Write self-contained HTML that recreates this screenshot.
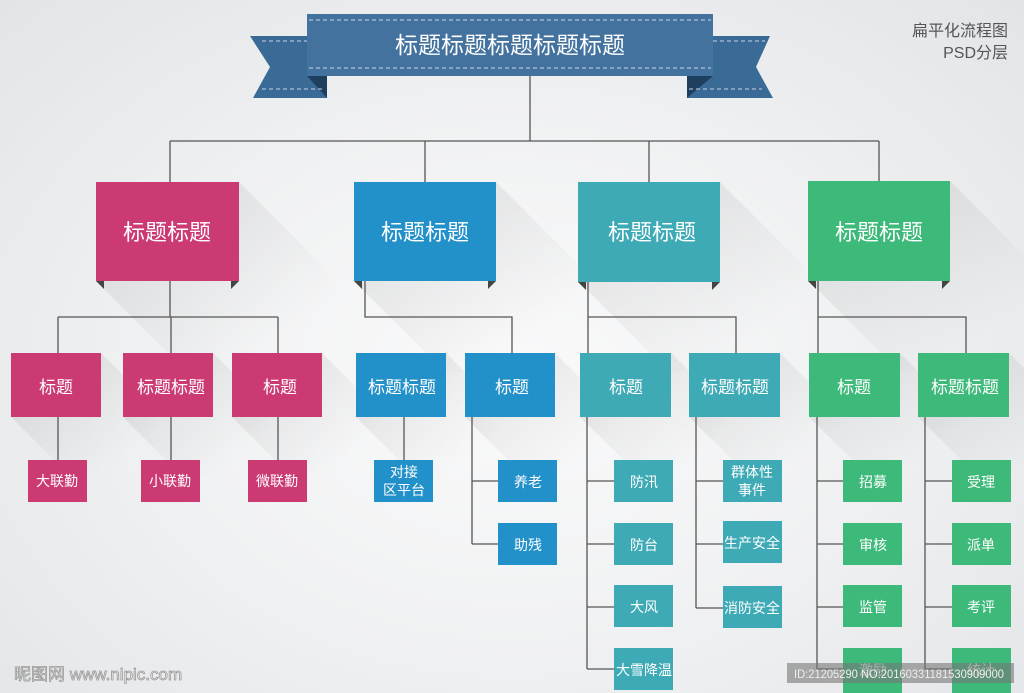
<!DOCTYPE html>
<html><head><meta charset="utf-8"><style>
html,body{margin:0;padding:0;width:1024px;height:693px;overflow:hidden}
body{background:radial-gradient(ellipse at 50% 55%,#fafafb 0%,#f1f2f3 45%,#e2e4e7 100%);font-family:"Liberation Sans","Noto Sans CJK SC",sans-serif}
svg{position:absolute;left:0;top:0}
text{font-family:"Liberation Sans","Noto Sans CJK SC",sans-serif;fill:#fff;text-anchor:middle}
</style></head><body>
<svg width="1024" height="693" viewBox="0 0 1024 693">
<defs>
<linearGradient id="sh" x1="0" y1="0" x2="1" y2="1"><stop offset="0" stop-color="#000" stop-opacity="0.10"/><stop offset="0.8" stop-color="#000" stop-opacity="0"/></linearGradient>
</defs>
<g fill="url(#sh)">
<polygon points="239,182 330,273 330,372 187,372 96,281"/>
<polygon points="496,182 587,273 587,372 445,372 354,281"/>
<polygon points="720,182 811,273 811,372 669,372 578,281"/>
<polygon points="950,181 1041,272 1041,371 899,371 808,280"/>
<polygon points="101,353 161,413 161,477 71,477 11,417"/>
<polygon points="213,353 273,413 273,477 183,477 123,417"/>
<polygon points="322,353 382,413 382,477 292,477 232,417"/>
<polygon points="446,353 506,413 506,477 416,477 356,417"/>
<polygon points="555,353 615,413 615,477 525,477 465,417"/>
<polygon points="671,353 731,413 731,477 641,477 580,417"/>
<polygon points="780,353 840,413 840,477 750,477 689,417"/>
<polygon points="900,353 960,413 960,477 870,477 809,417"/>
<polygon points="1009,353 1069,413 1069,477 979,477 918,417"/>
</g>
<g stroke="#555" stroke-width="1.3" fill="none">
<path d="M530,76V141M170,141H879M170,141V182M425,141V182M649,141V182M879,141V182"/>
<path d="M170,281V317M58,317H278M58,317V353M171,317V353M278,317V353M58,417V460M171,417V460M278,417V460"/>
<path d="M365,281V317H512V353M404,417V460M472,417V544M472,481H498M472,544H498"/>
<path d="M588,281V353M588,317H736V353M587,417V669M587,481H614M587,544H614M587,607H614M587,669H614M696,417V608M696,481H723M696,544H723M696,608H723"/>
<path d="M818,281V353M818,317H966V353M817,417V669M817,481H843M817,544H843M817,607H843M817,669H843M925,417V669M925,481H952M925,544H952M925,607H952M925,669H952"/>
</g>
<polygon points="250,36 327,36 327,98 253,98 270,67" fill="#3a6a96"/>
<polygon points="770,36 687,36 687,98 773,98 756,67" fill="#3a6a96"/>
<polygon points="307,76 327,98 327,76" fill="#1f3f5e"/>
<polygon points="713,76 687,98 687,76" fill="#1f3f5e"/>
<rect x="307" y="14" width="406" height="62" fill="#44729f"/>
<g stroke="#c9d6e4" stroke-width="1" stroke-dasharray="4,3">
<path d="M309,20H711M309,68H711M262,41H307M262,89H325M713,41H765M689,89H762"/>
</g>
<text x="510" y="53" font-size="23">标题标题标题标题标题</text>
<g font-size="22">
<rect x="96" y="182" width="143" height="99" fill="#cc3a74"/><text x="167" y="240">标题标题</text>
<rect x="354" y="182" width="142" height="99" fill="#2290c9"/><text x="425" y="240">标题标题</text>
<rect x="578" y="182" width="142" height="100" fill="#3eaab6"/><text x="652" y="240">标题标题</text>
<rect x="808" y="181" width="142" height="100" fill="#3dba7a"/><text x="879" y="240">标题标题</text>
</g>
<g font-size="17">
<rect x="11" y="353" width="90" height="64" fill="#cc3a74"/><text x="56" y="393">标题</text>
<rect x="123" y="353" width="90" height="64" fill="#cc3a74"/><text x="171" y="393">标题标题</text>
<rect x="232" y="353" width="90" height="64" fill="#cc3a74"/><text x="280" y="393">标题</text>
<rect x="356" y="353" width="90" height="64" fill="#2290c9"/><text x="402" y="393">标题标题</text>
<rect x="465" y="353" width="90" height="64" fill="#2290c9"/><text x="512" y="393">标题</text>
<rect x="580" y="353" width="91" height="64" fill="#3eaab6"/><text x="626" y="393">标题</text>
<rect x="689" y="353" width="91" height="64" fill="#3eaab6"/><text x="735" y="393">标题标题</text>
<rect x="809" y="353" width="91" height="64" fill="#3dba7a"/><text x="854" y="393">标题</text>
<rect x="918" y="353" width="91" height="64" fill="#3dba7a"/><text x="965" y="393">标题标题</text>
</g>
<g font-size="14">
<rect x="28" y="460" width="59" height="42" fill="#cc3a74"/><text x="57" y="486">大联勤</text>
<rect x="141" y="460" width="59" height="42" fill="#cc3a74"/><text x="170" y="486">小联勤</text>
<rect x="248" y="460" width="59" height="42" fill="#cc3a74"/><text x="277" y="486">微联勤</text>
<rect x="374" y="460" width="59" height="42" fill="#2290c9"/><text x="404" y="477">对接</text><text x="404" y="495">区平台</text>
<rect x="498" y="460" width="59" height="42" fill="#2290c9"/><text x="528" y="487">养老</text>
<rect x="498" y="523" width="59" height="42" fill="#2290c9"/><text x="528" y="550">助残</text>
<rect x="614" y="460" width="59" height="42" fill="#3eaab6"/><text x="644" y="487">防汛</text>
<rect x="614" y="523" width="59" height="42" fill="#3eaab6"/><text x="644" y="550">防台</text>
<rect x="614" y="585" width="59" height="42" fill="#3eaab6"/><text x="644" y="612">大风</text>
<rect x="614" y="648" width="59" height="42" fill="#3eaab6"/><text x="644" y="675">大雪降温</text>
<rect x="723" y="460" width="59" height="42" fill="#3eaab6"/><text x="752" y="477">群体性</text><text x="752" y="495">事件</text>
<rect x="723" y="521" width="59" height="42" fill="#3eaab6"/><text x="752" y="548">生产安全</text>
<rect x="723" y="586" width="59" height="42" fill="#3eaab6"/><text x="752" y="613">消防安全</text>
<rect x="843" y="460" width="59" height="42" fill="#3dba7a"/><text x="873" y="487">招募</text>
<rect x="843" y="523" width="59" height="42" fill="#3dba7a"/><text x="873" y="550">审核</text>
<rect x="843" y="585" width="59" height="42" fill="#3dba7a"/><text x="873" y="612">监管</text>
<rect x="843" y="648" width="59" height="45" fill="#3dba7a"/><text x="873" y="675">激励</text>
<rect x="952" y="460" width="59" height="42" fill="#3dba7a"/><text x="981" y="487">受理</text>
<rect x="952" y="523" width="59" height="42" fill="#3dba7a"/><text x="981" y="550">派单</text>
<rect x="952" y="585" width="59" height="42" fill="#3dba7a"/><text x="981" y="612">考评</text>
<rect x="952" y="648" width="59" height="45" fill="#3dba7a"/><text x="981" y="675">统计</text>
</g>
<g fill="#444">
<polygon points="96,281 104,281 104,289"/><polygon points="239,281 231,281 231,289"/>
<polygon points="354,281 362,281 362,289"/><polygon points="496,281 488,281 488,289"/>
<polygon points="578,282 586,282 586,290"/><polygon points="720,282 712,282 712,290"/>
<polygon points="808,281 816,281 816,289"/><polygon points="950,281 942,281 942,289"/>
</g>
<text x="1008" y="36" font-size="16" style="fill:#555;text-anchor:end">扁平化流程图</text>
<text x="1008" y="58" font-size="16" style="fill:#555;text-anchor:end">PSD分层</text>
<text x="14" y="680" font-size="17" style="fill:#f4f4f4;stroke:#999;stroke-width:0.8;text-anchor:start">昵图网 www.nipic.com</text>
<rect x="787" y="663" width="227" height="20" fill="#777" opacity="0.6"/>
<text x="794" y="678" font-size="12" textLength="210" lengthAdjust="spacingAndGlyphs" style="fill:#eee;text-anchor:start">ID:21205290 NO:20160331181530909000</text>
</svg>
</body></html>
